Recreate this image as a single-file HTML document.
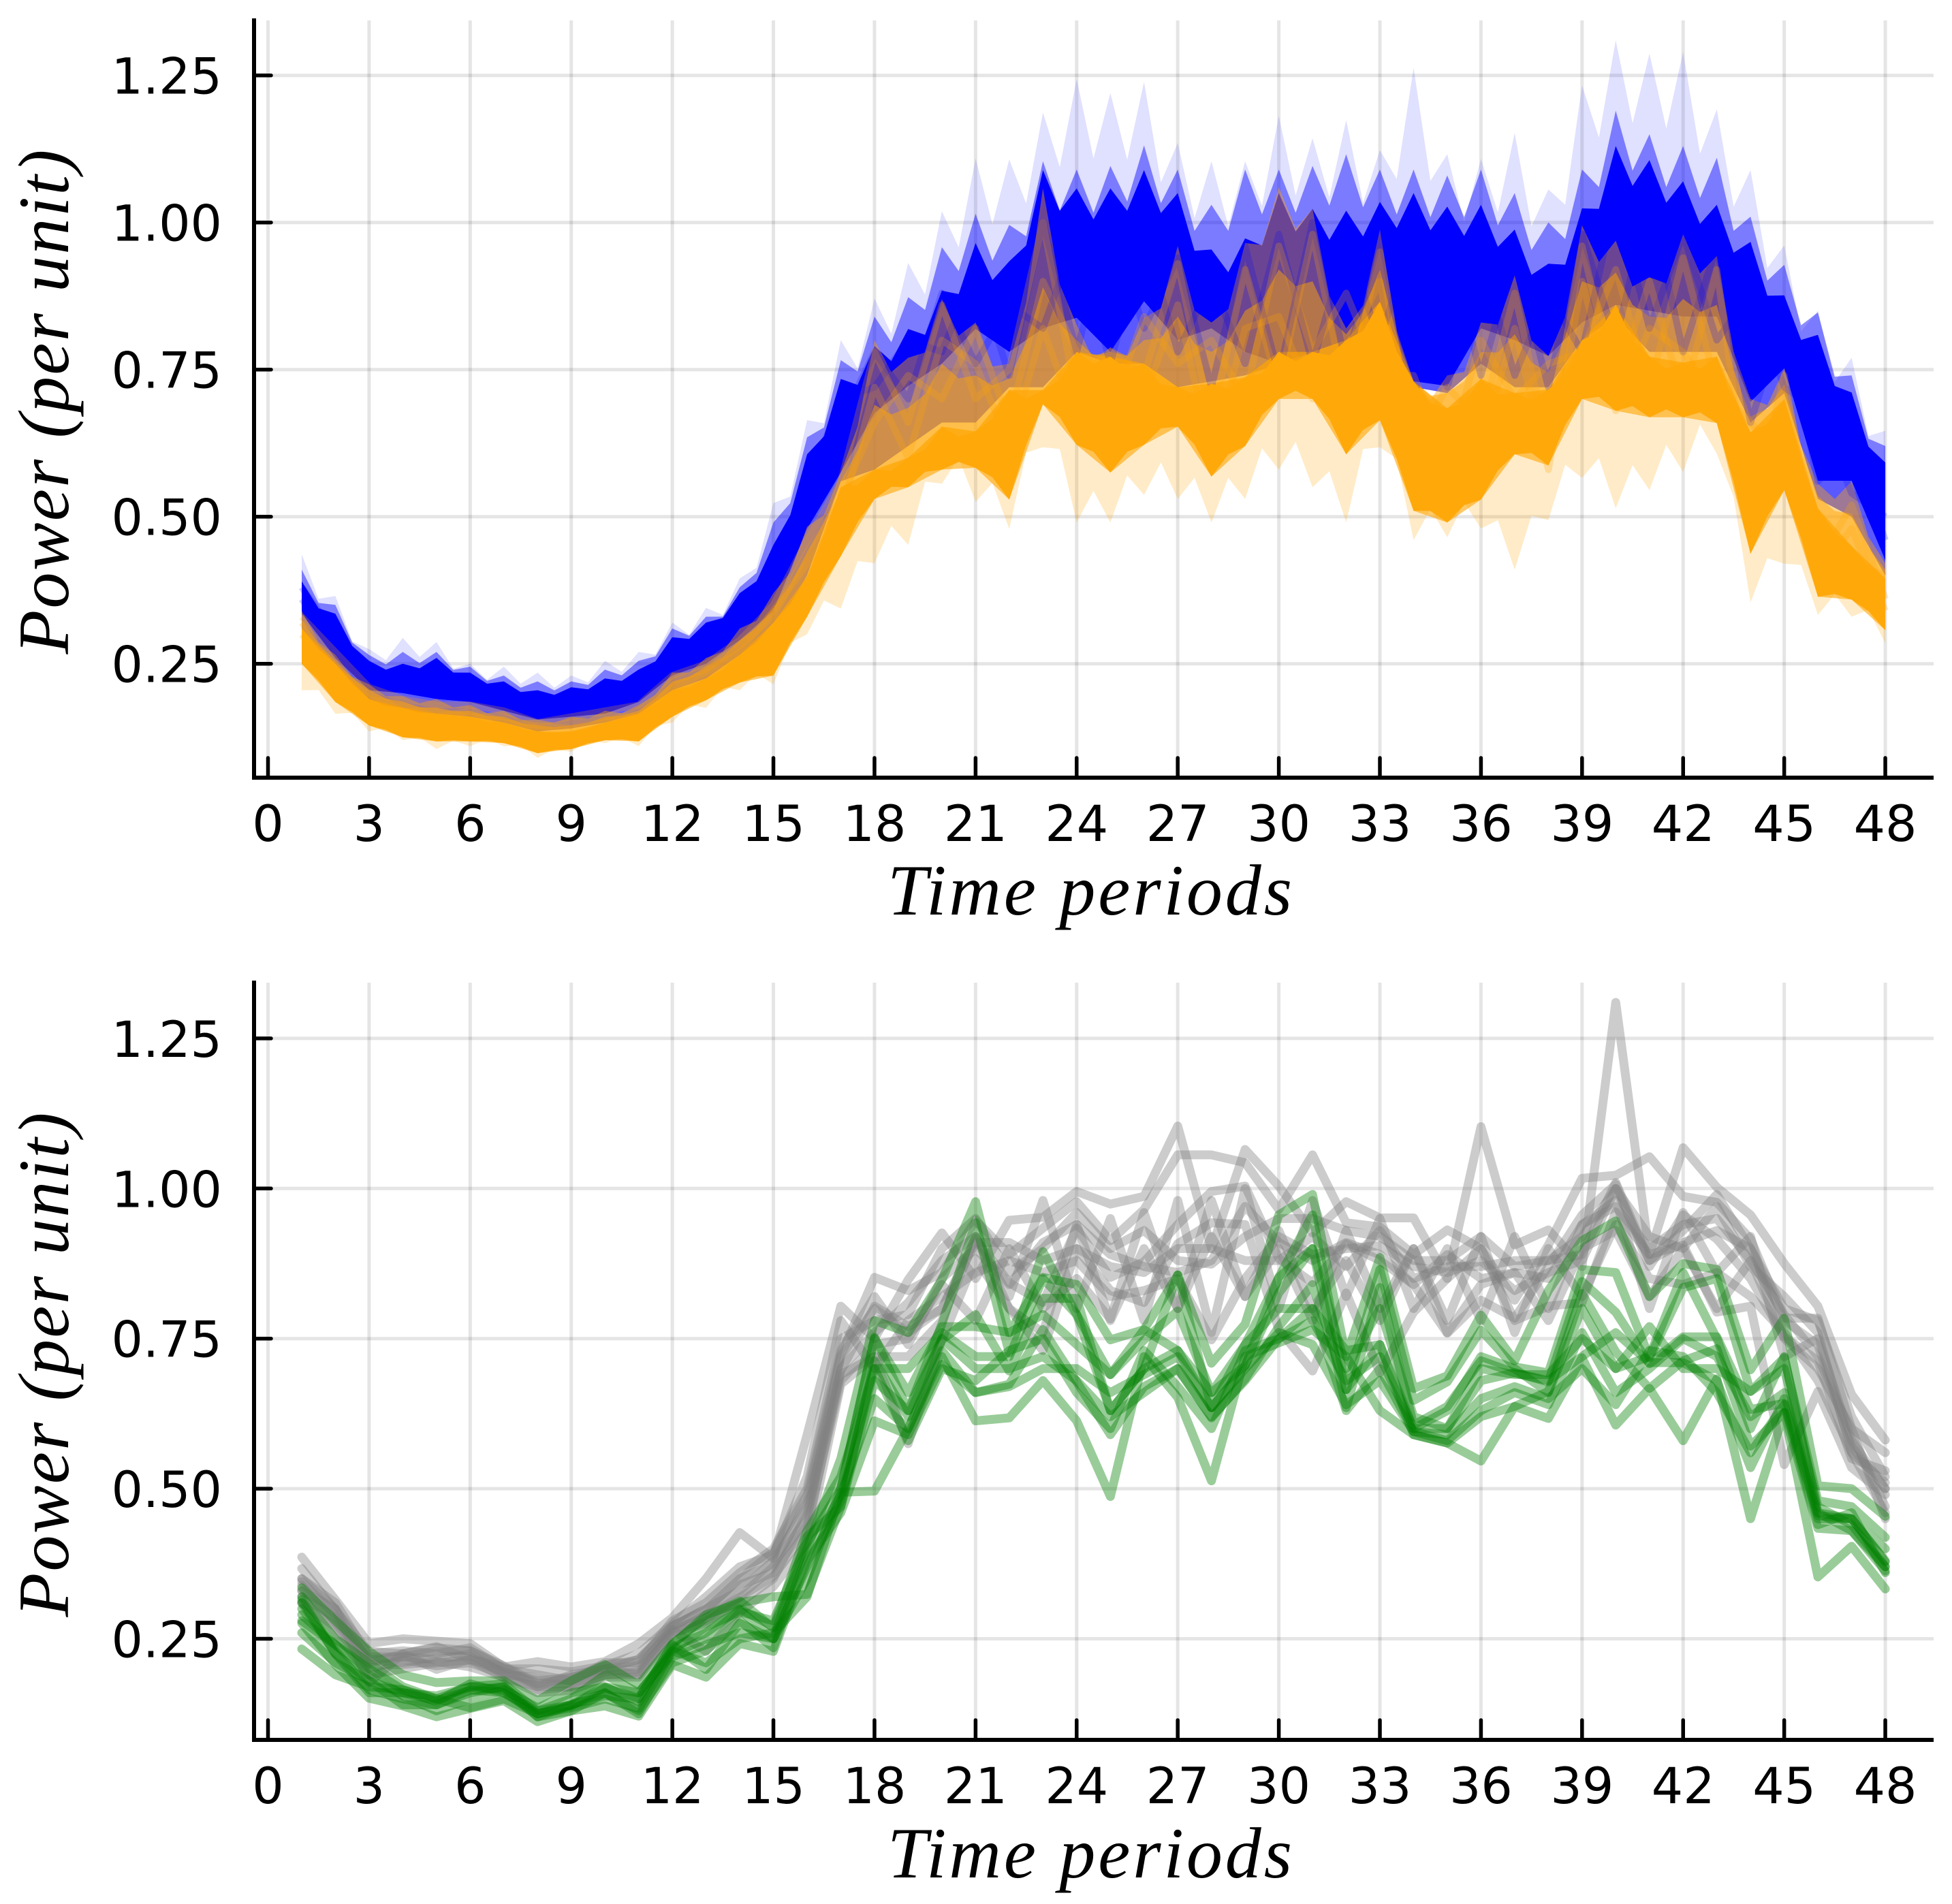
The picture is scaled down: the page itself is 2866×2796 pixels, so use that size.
<!DOCTYPE html>
<html lang="en">
<head>
<meta charset="utf-8">
<title>Power per unit over time periods</title>
<style>
html,body{margin:0;padding:0;background:#fff;}
svg{display:block;}
.tick{font-family:"DejaVu Sans",sans-serif;font-size:73px;fill:#000;}
.title{font-family:"Liberation Serif",serif;font-style:italic;font-size:106px;fill:#000;}
</style>
</head>
<body>
<svg id="chart" xmlns="http://www.w3.org/2000/svg" width="2866" height="2796" viewBox="0 0 2866 2796">
<rect x="0" y="0" width="2866" height="2796" fill="#fff"/>
<g id="top-panel"></g>
<g id="bottom-panel"></g>
<text class="title" x="1600" y="1343" text-anchor="middle" textLength="594" lengthAdjust="spacing">Time periods</text>
<text class="title" x="1600" y="2757" text-anchor="middle" textLength="594" lengthAdjust="spacing">Time periods</text>
<text class="title" transform="translate(100 590) rotate(-90)" x="0" y="0" text-anchor="middle" textLength="741" lengthAdjust="spacing">Power (per unit)</text>
<text class="title" transform="translate(100 2004) rotate(-90)" x="0" y="0" text-anchor="middle" textLength="741" lengthAdjust="spacing">Power (per unit)</text>
</svg>
<script>
const periods = [1,2,3,4,5,6,7,8,9,10,11,12,13,14,15,16,17,18,19,20,21,22,23,24,25,26,27,28,29,30,31,32,33,34,35,36,37,38,39,40,41,42,43,44,45,46,47,48];
const xTicks = [0,3,6,9,12,15,18,21,24,27,30,33,36,39,42,45,48];
const yTicks = [0.25,0.5,0.75,1,1.25];
const yTickLabels = ["0.25","0.50","0.75","1.00","1.25"];

/* top panel: envelopes of the dense scenario bundles */
const blueMax = [.436,.365,.275,.294,.287,.25,.245,.235,.23,.255,.27,.32,.345,.395,.523,.664,.80,.871,.931,1.019,1.109,1.107,1.187,1.244,1.22,1.239,1.135,1.104,1.104,1.181,1.143,1.174,1.123,1.263,1.116,1.108,1.152,1.056,1.233,1.31,1.287,1.29,1.192,1.089,.961,.85,.77,.646];
const blueFringe = [.41,.35,.265,.27,.27,.245,.23,.22,.22,.24,.255,.31,.33,.38,.49,.635,.766,.84,.873,.958,1.015,.996,1.104,1.09,1.096,1.131,1.09,1.03,1.09,1.09,1.096,1.116,1.09,1.09,1.08,1.09,1.05,1.0,1.09,1.19,1.15,1.13,1.11,1.01,.928,.847,.74,.62];
const blueHi = [.39,.335,.255,.25,.26,.235,.22,.205,.21,.225,.24,.295,.32,.37,.452,.606,.734,.79,.819,.884,.965,.934,1.089,1.058,1.058,1.089,1.05,.954,.973,1.05,1.023,1.02,1.035,1.05,1.027,1.03,.988,.93,1.024,1.13,1.106,1.07,1.03,.967,.876,.809,.711,.592];
const blueLo = [.335,.26,.205,.2,.19,.185,.17,.155,.16,.165,.185,.23,.25,.29,.34,.479,.575,.676,.722,.76,.819,.78,.82,.838,.78,.866,.80,.82,.78,.76,.78,.80,.80,.73,.722,.82,.80,.773,.83,.86,.85,.84,.84,.695,.752,.561,.561,.426];
const blueMin = [.30,.23,.18,.17,.165,.16,.15,.135,.14,.15,.165,.205,.225,.265,.30,.40,.56,.58,.62,.66,.66,.72,.72,.78,.76,.76,.72,.73,.74,.76,.76,.78,.80,.72,.71,.76,.72,.72,.80,.84,.78,.78,.78,.66,.71,.53,.50,.40];
const orangeTop = [.34,.265,.215,.195,.19,.18,.17,.155,.16,.17,.18,.235,.26,.31,.37,.483,.575,.80,.77,.87,.83,.76,1.058,.826,.788,.838,.96,.83,.965,1.06,1.023,.82,.988,.73,.74,.83,.91,.773,.995,.969,.907,.98,.943,.70,.752,.556,.56,.421];
const orangeMid = [.325,.255,.205,.185,.175,.17,.16,.145,.145,.16,.17,.22,.245,.29,.345,.44,.56,.69,.685,.76,.74,.735,.89,.80,.78,.80,.84,.78,.85,.92,.90,.81,.92,.73,.71,.78,.81,.745,.90,.915,.84,.87,.86,.67,.725,.535,.505,.41];
const orangeCoreTop = [.31,.25,.19,.175,.165,.16,.15,.135,.135,.15,.165,.205,.225,.265,.32,.398,.55,.58,.60,.653,.645,.715,.715,.78,.772,.76,.72,.726,.737,.78,.78,.80,.865,.73,.684,.734,.71,.716,.80,.86,.772,.762,.772,.643,.70,.514,.45,.395];
const orangeCoreBottom = [.25,.185,.145,.125,.118,.118,.115,.098,.105,.12,.118,.16,.188,.218,.23,.33,.433,.53,.55,.58,.583,.529,.691,.622,.575,.622,.653,.568,.62,.70,.70,.606,.664,.51,.49,.529,.606,.587,.70,.68,.669,.669,.659,.437,.545,.364,.359,.307];
const orangeMin = [.205,.165,.135,.12,.105,.11,.11,.09,.1,.115,.11,.15,.175,.205,.215,.30,.344,.421,.452,.556,.525,.479,.618,.49,.49,.537,.53,.49,.53,.58,.55,.49,.618,.46,.465,.48,.41,.494,.566,.514,.545,.576,.607,.354,.42,.333,.33,.285];

/* top panel: individual scenarios that stand out inside the mixed zone */
const blueLineA = [.38,.30,.24,.22,.23,.22,.20,.19,.19,.21,.22,.27,.29,.34,.42,.55,.70,.72,.80,.78,.92,.74,1.0,.78,1.0,.82,.94,.72,.96,.74,1.0,.76,.98,.70,.96,.74,.94,.72,.98,.80,1.04,.78,.96,.66,.84,.56,.62,.46];
const blueLineB = [.36,.28,.23,.21,.21,.21,.19,.18,.18,.20,.20,.26,.28,.32,.40,.52,.66,.78,.70,.88,.76,.86,.82,.98,.76,.98,.78,.90,.76,.98,.76,.96,.80,.98,.72,.94,.74,.88,.78,1.04,.82,.98,.80,.88,.72,.68,.54,.50];
const orangeLineA = [.33,.27,.21,.19,.18,.18,.17,.15,.16,.17,.18,.23,.25,.29,.35,.46,.56,.78,.66,.86,.70,.75,1.0,.70,.78,.74,.93,.66,.92,.72,.98,.70,.95,.62,.72,.66,.88,.62,.96,.72,.90,.70,.92,.50,.74,.42,.52,.36];
const orangeLineB = [.30,.24,.20,.17,.17,.16,.16,.14,.15,.16,.16,.22,.24,.28,.33,.44,.53,.66,.74,.70,.82,.66,.90,.78,.68,.84,.76,.80,.70,.96,.78,.88,.74,.74,.60,.80,.70,.76,.78,.92,.72,.94,.72,.66,.60,.50,.42,.40];
const orangeLineC = [.32,.25,.19,.18,.16,.17,.15,.145,.14,.15,.17,.21,.235,.27,.34,.42,.50,.72,.60,.80,.76,.62,.82,.66,.76,.70,.86,.60,.82,.84,.70,.78,.90,.58,.68,.62,.82,.58,.90,.68,.82,.78,.70,.56,.68,.40,.48,.34];

/* bottom panel: selected gray scenarios */
const gray1 = [.386,.315,.242,.25,.246,.242,.203,.212,.203,.212,.242,.285,.35,.427,.384,.59,.804,.75,.848,.926,.85,.947,.952,.995,.974,.987,1.104,.90,1.065,1.004,.926,.978,.951,.951,.85,1.103,.906,.931,.87,1.31,.89,1.068,1.002,.956,.875,.804,.657,.581];
const gray2 = [.367,.298,.229,.225,.237,.216,.194,.18,.186,.199,.216,.272,.298,.35,.375,.45,.722,.852,.83,.86,.947,.89,.934,.978,.913,.965,1.056,1.056,1.043,.965,1.056,.943,.936,.89,.931,.90,.814,.906,1.017,1.022,1.053,.987,.977,.916,.784,.784,.60,.56];
const gray3 = [.339,.276,.207,.207,.212,.203,.186,.16,.164,.186,.186,.259,.276,.319,.354,.43,.696,.804,.77,.80,.917,.843,.81,.934,.852,.878,.94,.995,1.004,.883,.843,.908,.88,.84,.759,.814,.784,.87,.956,1.007,.87,.956,.916,.85,.753,.713,.55,.53];
const gray4 = [.33,.30,.177,.225,.199,.216,.203,.17,.19,.2,.19,.265,.229,.294,.337,.41,.674,.72,.575,.748,.883,.80,.73,.90,.83,.81,.908,.943,.94,.765,.696,.826,.693,.794,.85,.90,.78,.804,.81,.961,.89,.906,.794,.804,.54,.662,.535,.49];
const gray5 = [.35,.31,.22,.22,.23,.23,.20,.19,.18,.21,.21,.28,.31,.36,.40,.50,.75,.78,.79,.90,.95,.86,.90,.96,.90,.93,.88,.874,.92,.95,.95,.93,.92,.88,.88,.92,.87,.88,.92,1.0,.88,.93,.99,.90,.80,.78,.62,.52];
const gray6 = [.32,.285,.215,.21,.22,.22,.195,.175,.175,.195,.20,.27,.30,.33,.38,.47,.70,.76,.81,.88,.92,.82,.98,.80,.95,.78,.98,.76,1.0,.80,.98,.82,.95,.80,.90,.78,.92,.80,.94,.98,.80,.96,.86,.92,.72,.75,.58,.50];
const gray7 = [.31,.27,.20,.215,.205,.21,.19,.165,.17,.19,.195,.26,.29,.34,.36,.44,.68,.74,.75,.84,.78,.90,.80,.85,.783,.96,.80,.92,.82,.93,.80,.88,.78,.90,.76,.84,.86,.78,.90,.93,.82,.90,.80,.88,.75,.70,.60,.45];
const gray8 = [.345,.29,.225,.23,.225,.235,.20,.20,.195,.205,.225,.275,.32,.37,.39,.52,.78,.70,.78,.82,.86,.88,.86,.88,.82,.83,.85,.748,.85,.92,.89,.90,.905,.87,.86,.88,.83,.86,.88,1.0,.92,.90,.97,.87,.82,.76,.56,.51];
const gray9 = [.33,.28,.215,.22,.215,.225,.19,.185,.18,.20,.205,.265,.285,.32,.37,.48,.72,.80,.76,.80,.91,.91,.88,.90,.87,.86,.90,.90,.88,.88,.92,.87,.93,.85,.87,.87,.88,.88,.89,1.01,.88,.91,.93,.90,.78,.74,.57,.50];
const gray10 = [.35,.30,.21,.225,.235,.23,.205,.175,.185,.205,.215,.27,.30,.35,.395,.49,.73,.82,.74,.85,.90,.84,.91,.94,.89,.87,.86,.88,.97,.91,.88,.91,.89,.84,.89,.85,.86,.85,.94,.97,.90,.94,.95,.88,.79,.72,.59,.47];
const gray11 = [.31,.26,.19,.20,.21,.215,.185,.17,.17,.19,.19,.26,.28,.31,.35,.46,.69,.72,.72,.78,.92,.80,.76,.94,.78,.90,.80,.98,.82,.90,.78,.93,.80,.90,.78,.92,.76,.90,.82,.94,.85,.84,.86,.82,.76,.68,.56,.46];

/* bottom panel: selected green scenarios */
const green1 = [.335,.28,.229,.19,.177,.18,.18,.147,.18,.207,.173,.242,.285,.313,.268,.40,.55,.78,.76,.848,.978,.76,.852,.84,.748,.765,.856,.709,.774,.956,.99,.72,.885,.667,.688,.789,.713,.83,.913,.946,.82,.875,.865,.698,.784,.505,.5,.454];
const green2 = [.32,.25,.21,.17,.15,.17,.165,.135,.16,.17,.16,.225,.25,.298,.25,.35,.5,.752,.63,.774,.943,.726,.895,.79,.69,.748,.796,.66,.74,.852,.956,.665,.865,.647,.678,.764,.703,.693,.865,.86,.718,.835,.85,.662,.718,.48,.47,.419];
const green3 = [.31,.225,.18,.16,.147,.164,.17,.125,.138,.168,.151,.24,.199,.276,.25,.42,.47,.713,.62,.748,.79,.696,.817,.817,.63,.70,.73,.635,.705,.826,.90,.635,.835,.606,.637,.713,.693,.678,.845,.794,.708,.753,.753,.632,.642,.455,.45,.378];
const green4 = [.276,.207,.151,.138,.12,.134,.147,.112,.13,.138,.121,.207,.186,.242,.229,.38,.46,.613,.59,.707,.66,.674,.765,.678,.59,.67,.70,.618,.683,.77,.84,.665,.74,.59,.576,.62,.637,.662,.825,.728,.667,.713,.733,.571,.627,.434,.43,.363];
const green5 = [.233,.19,.17,.165,.15,.135,.15,.125,.135,.15,.134,.23,.21,.25,.26,.32,.494,.496,.6,.72,.613,.618,.68,.613,.487,.72,.652,.513,.72,.743,.765,.72,.63,.59,.576,.546,.637,.617,.718,.606,.667,.58,.683,.45,.627,.353,.404,.333];
const green6 = [.30,.23,.165,.15,.14,.16,.17,.12,.14,.17,.145,.235,.26,.30,.27,.43,.52,.70,.70,.76,.72,.72,.85,.79,.63,.70,.856,.635,.74,.80,.80,.73,.74,.60,.63,.72,.70,.66,.80,.70,.72,.86,.75,.60,.72,.46,.45,.40];
const green7 = [.29,.24,.20,.165,.145,.175,.16,.13,.15,.19,.16,.23,.27,.295,.28,.41,.50,.75,.66,.77,.77,.76,.79,.74,.69,.765,.73,.66,.705,.852,.90,.70,.80,.62,.60,.70,.69,.69,.75,.70,.77,.70,.70,.662,.70,.47,.44,.37];
const green8 = [.315,.225,.16,.16,.155,.17,.175,.13,.14,.155,.15,.24,.29,.31,.32,.324,.47,.68,.63,.75,.70,.70,.72,.68,.62,.66,.70,.62,.68,.75,.78,.68,.72,.60,.60,.68,.693,.68,.72,.76,.71,.71,.68,.535,.65,.45,.45,.38];
const green9 = [.26,.21,.18,.14,.14,.165,.16,.125,.14,.16,.13,.21,.23,.28,.235,.39,.49,.65,.60,.73,.66,.67,.70,.70,.66,.69,.72,.635,.70,.76,.74,.64,.68,.595,.59,.65,.67,.65,.70,.64,.73,.72,.66,.56,.64,.44,.46,.36];
const green10 = [.28,.24,.19,.155,.13,.15,.165,.12,.13,.16,.125,.22,.24,.26,.25,.37,.48,.70,.58,.70,.68,.73,.75,.66,.60,.73,.67,.60,.73,.75,.80,.63,.70,.595,.58,.63,.66,.64,.76,.66,.70,.75,.72,.62,.66,.46,.43,.37];

const grayLines = [gray1,gray2,gray3,gray4,gray5,gray6,gray7,gray8,gray9,gray10,gray11];
const greenLines = [green1,green2,green3,green4,green5,green6,green7,green8,green9,green10];

const NS = "http://www.w3.org/2000/svg";
const xScale = t => 393.5 + 49.47 * t;
const yTop = v => 110.7 + (1.25 - v) * 864;
const yBottom = v => 1745.3 + (1 - v) * 881.6;

function make(tag, parent, attrs) {
  const el = document.createElementNS(NS, tag);
  for (const k in attrs) el.setAttribute(k, attrs[k]);
  parent.appendChild(el);
  return el;
}
function linePath(values, yFn) {
  return values.map((v, i) => (i ? "L" : "M") + xScale(periods[i]).toFixed(1) + " " + yFn(v).toFixed(1)).join("");
}
/* a bundle of zig-zagging lines has an edge that notches between periods */
function notchedEdge(values, notch) {
  const pts = [];
  values.forEach((v, i) => {
    pts.push([periods[i], v]);
    if (i < values.length - 1) {
      const mid = (v + values[i + 1]) / 2;
      pts.push([periods[i] + 0.5, mid * (1 + notch)]);
    }
  });
  return pts;
}
function bandPath(upper, upperNotch, lower, lowerNotch) {
  const top = notchedEdge(upper, -upperNotch);
  const bottom = notchedEdge(lower, lowerNotch).reverse();
  return top.concat(bottom).map((p, i) => (i ? "L" : "M") + xScale(p[0]).toFixed(1) + " " + yTop(p[1]).toFixed(1)).join("") + "Z";
}
function drawGrid(g, yFn, top, bottom) {
  xTicks.forEach(t => {
    const el = make("line", g, {x1: xScale(t), x2: xScale(t), y1: top, y2: bottom, stroke: "#000", "stroke-opacity": .1, "stroke-width": 5});
    
    
  });
  yTicks.forEach(v => {
    const el = make("line", g, {x1: 373, x2: 2839, y1: yFn(v), y2: yFn(v), stroke: "#000", "stroke-opacity": .1, "stroke-width": 5});
    
    
  });
}
function drawFrame(g, yFn, top, bottom) {
  const left = make("line", g, {x1: 373, x2: 373, y1: top, y2: bottom + 3, stroke: "#000", "stroke-width": 6});
  
  
  const base = make("line", g, {x1: 370, x2: 2839, y1: bottom, y2: bottom, stroke: "#000", "stroke-width": 6});
  
  
  xTicks.forEach(t => {
    const tick = make("line", g, {x1: xScale(t), x2: xScale(t), y1: bottom, y2: bottom - 29, stroke: "#000", "stroke-width": 5.5, "stroke-linecap": "round"});
    
    
    const label = make("text", g, {x: xScale(t), y: bottom + 93, "text-anchor": "middle", class: "tick"});
    label.textContent = String(t);
    
    
  });
  yTicks.forEach((v, i) => {
    const tick = make("line", g, {x1: 373, x2: 398, y1: yFn(v), y2: yFn(v), stroke: "#000", "stroke-width": 5.5, "stroke-linecap": "round"});
    
    
    const label = make("text", g, {x: 326, y: yFn(v) + 27, "text-anchor": "end", class: "tick"});
    label.textContent = yTickLabels[i];
    
    
  });
}
function drawBand(g, upper, upperNotch, lower, lowerNotch, color, opacity, name) {
  const el = make("path", g, {d: bandPath(upper, upperNotch, lower, lowerNotch), fill: color, "fill-opacity": opacity, "stroke-linejoin": "round"});
  
  
}
function drawScenario(g, values, color, opacity, name) {
  const el = make("path", g, {d: linePath(values, yTop), fill: "none", stroke: color, "stroke-opacity": opacity, "stroke-width": 10, "stroke-linejoin": "round"});
  
  
}

const topG = document.getElementById("top-panel");
drawGrid(topG, yTop, 30, 1142);
/* nested layers: every layer runs from its own upper edge down to a shared lower edge */
drawBand(topG, blueMax, .10, blueLo, 0, "#0000ff", .12, "blue-outer-fringe");
drawBand(topG, blueFringe, .07, blueLo, 0, "#0000ff", .45, "blue-upper-fringe");
drawBand(topG, blueHi, .05, blueLo, 0, "#0000ff", 1, "blue-dense-band");
drawBand(topG, blueLo, 0, blueMin, 0, "#0000ff", .65, "blue-lower-fringe");
drawBand(topG, orangeCoreTop, 0, orangeMin, .11, "#ffa500", .22, "orange-outer-fringe");
drawBand(topG, orangeCoreTop, 0, orangeCoreBottom, 0, "#ffa500", .6, "orange-lower-fringe");
drawBand(topG, orangeTop, .05, orangeCoreBottom, .02, "#ffa500", .42, "orange-upper-fringe");
drawBand(topG, orangeMid, .02, orangeCoreBottom, .02, "#ffa500", .5, "orange-mixed-band");
drawScenario(topG, blueLineA, "#0000ff", .2, "blue-scenario-line");
drawScenario(topG, blueLineB, "#0000ff", .2, "blue-scenario-line");
drawScenario(topG, orangeLineA, "#ffa500", .25, "orange-scenario-line");
drawScenario(topG, orangeLineB, "#ffa500", .25, "orange-scenario-line");
drawScenario(topG, orangeLineC, "#ffa500", .25, "orange-scenario-line");
drawBand(topG, orangeCoreTop, .02, orangeCoreBottom, .02, "#ffa80a", 1, "orange-dense-band");
drawFrame(topG, yTop, 27, 1142);

const bottomG = document.getElementById("bottom-panel");
drawGrid(bottomG, yBottom, 1443, 2555);
grayLines.forEach(values => {
  const el = make("path", bottomG, {d: linePath(values, yBottom), fill: "none", stroke: "#808080", "stroke-opacity": .4, "stroke-width": 13, "stroke-linejoin": "round", "stroke-linecap": "round"});
  
  
});
greenLines.forEach(values => {
  const el = make("path", bottomG, {d: linePath(values, yBottom), fill: "none", stroke: "#008000", "stroke-opacity": .4, "stroke-width": 13, "stroke-linejoin": "round", "stroke-linecap": "round"});
  
  
});
drawFrame(bottomG, yBottom, 1440, 2555);
</script>
</body>
</html>
